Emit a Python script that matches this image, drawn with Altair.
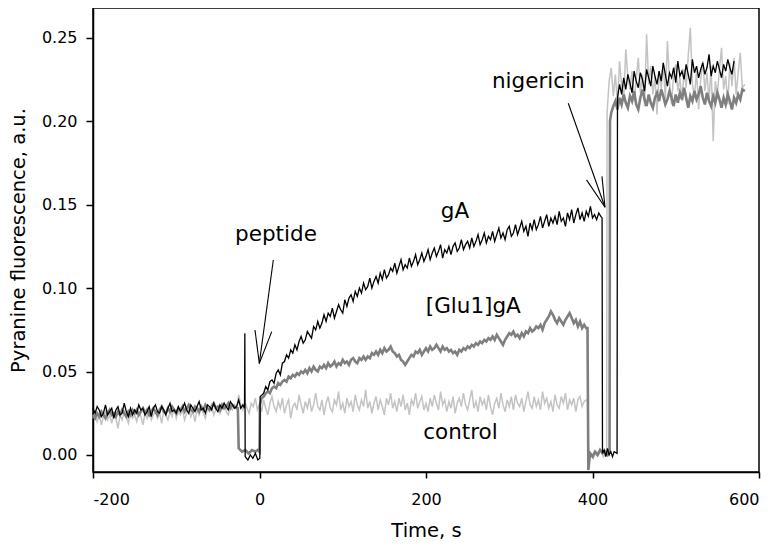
import altair as alt
import pandas as pd

# ---- data (fluorescence values in thousandths of a.u.) ----
STEP = 2.5  # s between samples inside a segment

# gA (black)
GA_BASE_T0 = -200
GA_BASE = [28, 25, 29, 27, 23, 25, 30, 24, 26, 28, 22, 27, 29, 24, 25, 31, 26, 23, 28, 24, 27,
           25, 30, 27, 28, 24, 26, 29, 23, 28, 30, 26, 25, 29, 27, 24, 28, 31, 26, 27, 25,
           29, 26, 28, 31, 27, 25, 30, 28, 26, 29, 32, 27, 28, 25, 30, 29, 27, 31, 28, 26,
           30, 28, 31, 29, 27, 32, 30, 28, 29, 33, 28, 30]
GA_JUMP1 = [(-18, 28), (-17.6, 73), (-17.2, -1), (-14, -3), (-11, 0), (-8, -2), (-5, 1),
            (-2, -3), (0.4, -2), (0.8, 35), (3, 36)]
GA_RISE_T0 = 5
GA_RISE = [37, 41, 39, 44, 45, 43, 49, 51, 48, 55,
           56, 60, 58, 63, 61, 66, 63, 68, 71, 67,
           69, 74, 72, 70, 77, 75, 80, 76, 79, 84,
           80, 85, 83, 88, 82, 86, 90, 87, 85, 93,
           89, 94, 96, 92, 98, 95, 100, 97, 103, 99,
           101, 106, 100, 104, 107, 103, 109, 105, 111, 106,
           108, 112, 110, 115, 109, 113, 117, 111, 114, 112,
           118, 113, 116, 120, 114, 117, 121, 116, 119, 123,
           117, 121, 124, 119, 122, 126, 118, 123, 121, 125,
           120, 125, 127, 122, 124, 129, 123, 126, 128, 124,
           130, 125, 128, 132, 126, 129, 133, 127, 131, 129,
           134, 128, 132, 136, 130, 133, 129, 135, 137, 131,
           133, 138, 132, 136, 140, 134, 137, 131, 139, 135,
           141, 135, 138, 143, 136, 140, 144, 137, 142, 139,
           143, 138, 146, 140, 142, 137, 145, 141, 147, 139,
           144, 148, 141, 145, 140, 146, 143, 149, 142, 144,
           141, 145, 143]
GA_JUMP2 = [(411.5, 142), (412, 1), (414, 3), (416, -1), (418, 4), (420, 0), (422, 2),
            (424, -1), (426, 2), (429.5, 1), (430, 214)]
GA_HIGH_T0 = 432.5
GA_HIGH = [222, 216, 226, 219, 228, 223, 217, 230, 224, 220,
           229, 225, 218, 231, 226, 221, 233, 227, 222, 230,
           224, 235, 228, 221, 229, 226, 232, 223, 236, 227,
           230, 225, 234, 228, 222, 237, 229, 233, 226, 231,
           235, 228, 232, 240, 227, 233, 229, 236, 231, 226,
           234, 230, 237, 232, 228, 236]

# [Glu1]gA (dark grey)
GLU_BASE_T0 = -200
GLU_BASE = [24, 22, 25, 23, 26, 24, 22, 25, 27, 24,
            25, 23, 26, 24, 27, 25, 23, 26, 24, 27,
            25, 27, 24, 26, 28, 25, 27, 24, 26, 28,
            26, 24, 27, 29, 26, 25, 28, 26, 29, 27,
            25, 28, 27, 29, 26, 28, 30, 27, 26, 29,
            28, 26, 29, 27, 30, 28, 27, 29, 31, 28,
            29, 27, 30, 28, 29, 31, 28, 30, 29, 28]
GLU_JUMP1 = [(-26, 28), (-25, 4), (-21, 2), (-17, 3), (-13, 1), (-9, 3), (-5, 2), (-2, 3),
             (0, 2), (0.5, 30), (2.5, 34)]
GLU_RISE_T0 = 5
GLU_RISE = [35, 37, 38, 37, 40, 41, 40, 43, 42, 44,
            45, 44, 47, 46, 48, 47, 49, 48, 50, 49,
            51, 49, 52, 50, 53, 51, 50, 53, 52, 54,
            52, 55, 53, 54, 56, 53, 55, 54, 57, 55,
            56, 54, 57, 58, 56, 55, 58, 57, 59, 57,
            59, 58, 61, 60, 62, 60, 63, 61, 64, 62,
            63, 65, 62, 61, 59, 60, 57, 56, 54, 56,
            58, 60, 59, 62, 61, 63, 60, 62, 64, 62,
            65, 63, 64, 66, 64, 62, 65, 63, 64, 62,
            63, 61, 62, 60, 63, 62, 64, 63, 65, 64,
            66, 65, 67, 66, 68, 67, 69, 68, 70, 69,
            71, 69, 72, 70, 68, 66, 69, 71, 73, 72,
            74, 71, 72, 70, 73, 71, 74, 73, 76, 74,
            75, 77, 76, 78, 75, 79, 81, 83, 86, 84,
            81, 79, 82, 80, 78, 81, 83, 85, 82, 79,
            81, 77, 80, 76, 78, 76]
GLU_JUMP2 = [(394, 76), (395, -9), (397, 1), (400, -1), (403, 2), (406, 0), (409, 3),
             (412, 1), (415, 2), (418, 0), (420.5, 2), (421, 200)]
GLU_HIGH_T0 = 422.5
GLU_HIGH = [205, 209, 212, 207, 214, 210, 216, 211, 208, 215,
            212, 218, 210, 207, 214, 219, 213, 209, 216, 211,
            208, 214, 217, 212, 219, 215, 210, 213, 218, 214,
            209, 216, 211, 217, 213, 220, 214, 208, 215, 212,
            218, 213, 216, 221, 214, 210, 217, 212, 209, 215,
            211, 217, 213, 208, 214, 210, 216, 212, 207, 214,
            211, 216, 213, 219]
GLU_END = [(583, 218)]

# control (light grey)
CTRL_BASE_T0 = -200
CTRL_BASE = [22, 25, 20, 24, 18, 23, 26, 21, 24, 19,
             25, 22, 16, 24, 21, 26, 23, 19, 25, 22,
             24, 20, 26, 23, 18, 25, 22, 27, 21, 24,
             26, 22, 25, 19, 27, 24, 21, 26, 23, 28,
             22, 26, 24, 27, 21, 25, 28, 23, 26, 20,
             27, 24, 29, 25, 22, 28, 26, 30, 24, 27,
             29, 25, 28, 31, 26, 24, 29, 27, 30, 28,
             36, 30]
CTRL_MID_T0 = -20
CTRL_MID = [27, 32, 28, 25, 31, 29, 34, 27, 30, 26,
            33, 28, 24, 31, 35, 29, 26, 32, 28, 34,
            25, 30, 33, 22, 29, 31, 27, 36, 30, 25,
            32, 28, 34, 26, 30, 37, 29, 27, 33, 24,
            31, 35, 28, 26, 33, 30, 38, 27, 31, 25,
            34, 29, 32, 26, 36, 30, 27, 33, 29, 39,
            28, 32, 25, 31, 35, 27, 33, 29, 24, 34,
            30, 37, 28, 32, 26, 34, 29, 36, 27, 31,
            24, 33, 30, 37, 28, 32, 35, 27, 31, 26,
            34, 29, 36, 31, 27, 38, 30, 33, 26, 32,
            28, 35, 25, 31, 34, 29, 37, 30, 27, 33,
            39, 28, 32, 26, 35, 30, 33, 27, 36, 29,
            24, 31, 34, 28, 37, 30, 26, 33, 29, 35,
            27, 36, 31, 29, 34, 26, 32, 38, 30, 28,
            35, 29, 33, 27, 38, 31, 34, 28, 32, 26,
            36, 30, 28, 35, 31, 37, 27, 33, 30, 34,
            26, 33, 35, 29, 32, 33]
CTRL_JUMP = [(394, 33), (395.5, -4), (398, 1), (401, -2), (404, 2), (407, 0), (410, 3),
             (413, -1), (416, 1), (417, 3), (417.5, 205)]
CTRL_HIGH_T0 = 420
CTRL_HIGH = [224, 232, 215, 228, 210, 236, 221, 214, 243, 226,
             219, 230, 212, 225, 238, 217, 228, 209, 252, 222,
             233, 216, 227, 204, 230, 219, 235, 213, 248, 224,
             210, 229, 234, 218, 226, 212, 231, 220, 239, 256,
             222, 215, 230, 207, 225, 236, 218, 229, 212, 233,
             188, 224, 216, 231, 244, 219, 227, 210, 235, 221,
             238, 216, 229, 241, 220]
CTRL_END = [(583, 222)]

# annotations
LABELS = ["peptide", "gA", "[Glu1]gA", "control", "nigericin"]
LABEL_T = [19.8, 234.8, 256.8, 241.4, 334.9]
LABEL_V = [0.1282, 0.1418, 0.0849, 0.0094, 0.2197]

ARROW_T = [16.6, -5.4, 14.7, 370.9, 392.8, 411.4]
ARROW_V = [0.1168, 0.0749, 0.0739, 0.2107, 0.1648, 0.1669]
ARROW_T2 = [-0.24, -0.24, -0.24, 415.0, 415.0, 415.0]
ARROW_V2 = [0.0549, 0.0549, 0.0549, 0.1484, 0.1484, 0.1484]


def seg(t0, vals):
    return [(t0 + STEP * i, v) for i, v in enumerate(vals)]


def frame(points):
    return pd.DataFrame({
        "t": [p[0] for p in points],
        "v": [p[1] / 1000 for p in points],
        "i": list(range(len(points))),
    })


ga = frame(seg(GA_BASE_T0, GA_BASE) + GA_JUMP1 + seg(GA_RISE_T0, GA_RISE) + GA_JUMP2
           + seg(GA_HIGH_T0, GA_HIGH))
glu = frame(seg(GLU_BASE_T0, GLU_BASE) + GLU_JUMP1 + seg(GLU_RISE_T0, GLU_RISE) + GLU_JUMP2
            + seg(GLU_HIGH_T0, GLU_HIGH) + GLU_END)
ctrl = frame(seg(CTRL_BASE_T0, CTRL_BASE) + seg(CTRL_MID_T0, CTRL_MID) + CTRL_JUMP
             + seg(CTRL_HIGH_T0, CTRL_HIGH) + CTRL_END)

labels = pd.DataFrame({"t": LABEL_T, "v": LABEL_V, "text": LABELS})
arrows = pd.DataFrame({"t": ARROW_T, "v": ARROW_V, "t2": ARROW_T2, "v2": ARROW_V2})

FONT = "DejaVu Sans"

X = alt.X("t:Q",
          scale=alt.Scale(domain=[-200, 600], nice=False, zero=False),
          axis=alt.Axis(values=[-200, 0, 200, 400, 600], tickSize=6, labelPadding=13,
                        labelExpr="datum.value + ''", title="Time, s", titlePadding=14))
Y = alt.Y("v:Q",
          scale=alt.Scale(domain=[-0.0102, 0.2678], nice=False, zero=False),
          axis=alt.Axis(values=[0, 0.05, 0.10, 0.15, 0.20, 0.25], format=".2f", tickSize=7,
                        labelPadding=9, title="Pyranine fluorescence, a.u.", titlePadding=13))

l_ctrl = alt.Chart(ctrl).mark_line(color="#c3c3c3", strokeWidth=1.5).encode(x=X, y=Y, order="i:Q")
l_glu = alt.Chart(glu).mark_line(color="#7f7f7f", strokeWidth=2.6).encode(x=X, y=Y, order="i:Q")
l_ga = alt.Chart(ga).mark_line(color="#000000", strokeWidth=1.3).encode(x=X, y=Y, order="i:Q")

arr = alt.Chart(arrows).mark_rule(color="black", strokeWidth=1.1).encode(
    x=X, y=Y, x2="t2:Q", y2="v2:Q")
txt = alt.Chart(labels).mark_text(font=FONT, fontSize=21.5, align="center",
                                  baseline="alphabetic", color="black").encode(
    x=X, y=Y, text="text:N")

chart = alt.layer(l_ctrl, l_glu, l_ga, arr, txt).properties(
    width=666, height=464,
    autosize=alt.AutoSizeParams(type="none"),
    padding={"left": 85, "top": 0, "right": 10, "bottom": 72},
).configure_view(
    stroke="black", strokeWidth=1.5
).configure_axis(
    grid=False, domainColor="black", domainWidth=1.5, tickColor="black", tickWidth=1.5,
    labelFont=FONT, labelFontSize=16, labelColor="black",
    titleFont=FONT, titleFontSize=19.5, titleFontWeight="normal", titleColor="black",
)

chart.save("out.html", embed_options={"renderer": "svg", "actions": False})
